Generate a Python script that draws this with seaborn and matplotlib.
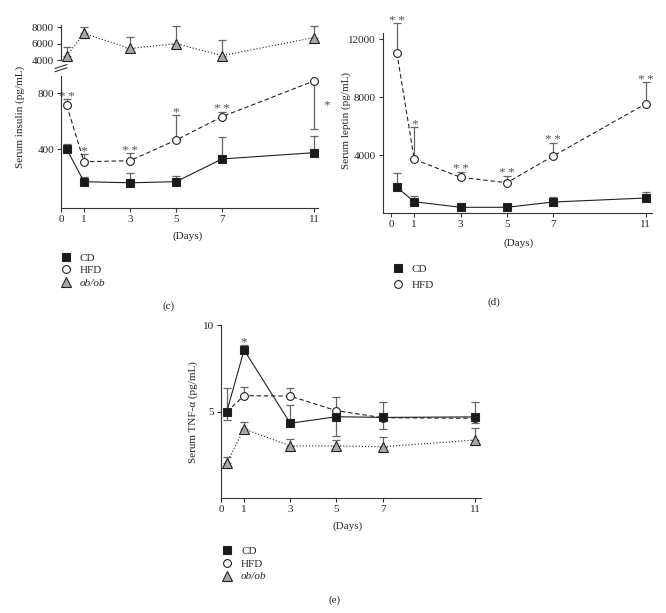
import numpy as np
import matplotlib
matplotlib.use("Agg")
import matplotlib.pyplot as plt
from matplotlib.lines import Line2D
import seaborn as sns

sns.set_style("ticks")
plt.rcParams['font.family'] = ['Liberation Serif', 'DejaVu Serif']

days = [0.25, 1, 3, 5, 7, 11]
day_ticks = [0, 1, 3, 5, 7, 11]

# (c) insulin, pg/mL ; error: + above the point, - below
ins_cd = [400, 169, 161, 169, 331, 376]
ins_cd_err = [38, 35, 68, 42, 154, 121]
ins_hfd = [714, 311, 319, 466, 633, 888]
ins_hfd_err = [43, 55, 52, 179, 36, -343]
ins_hfd_sig = ['**', '*', '**', '*', '**', '*']
ins_ob = [4540, 7250, 5410, 6000, 4540, 6750]
ins_ob_err = [1040, 830, 1420, 2160, 1960, 1410]

# (d) leptin, pg/mL
lep_cd = [1793, 800, 414, 414, 779, 1055]
lep_cd_err = [1007, 393, 120, 227, 324, 414]
lep_hfd = [11076, 3724, 2483, 2110, 3952, 7559]
lep_hfd_err = [2027, 2248, 386, 462, 917, 1475]
lep_hfd_sig = ['**', '*', '**', '**', '**', '**']

# (e) TNF-alpha, pg/mL
tnf_cd = [5.0, 8.57, 4.33, 4.71, 4.67, 4.70]
tnf_cd_err = [1.35, 0.29, 1.06, -1.10, 0.87, 0.88]
tnf_cd_sig = ['', '*', '', '', '', '']
tnf_hfd = [5.0, 5.93, 5.9, 5.06, 4.65, 4.62]
tnf_hfd_err = [-0.48, 0.52, 0.5, 0.81, -0.67, -0.25]
tnf_ob = [2.05, 4.0, 3.02, 3.02, 2.97, 3.36]
tnf_ob_err = [0.35, 0.42, 0.40, 0.34, 0.55, 0.68]

W, H = 666, 613
fig = plt.figure(figsize=(W / 100, H / 100), dpi=100)

LINE = '#222222'
ERR = '#666666'
TICK_FS = 8
LAB_FS = 8
STAR_FS = 9.5

STYLES = {
    'CD': dict(marker='s', linestyle='-', markerfacecolor='#1a1a1a', markersize=5.8),
    'HFD': dict(marker='o', linestyle=(0, (4, 2.5)), markerfacecolor='white', markersize=5.6),
    'ob/ob': dict(marker='^', linestyle=(0, (1, 1.8)), markerfacecolor='#a8a8a8', markersize=7.2),
}


def px_axes(l, t, r, b):
    return fig.add_axes([l / W, 1 - b / H, (r - l) / W, (b - t) / H])


def draw(ax, y, err, kind):
    y = np.array(y, float)
    err = np.array(err, float)
    x = np.array(days)
    up = err > 0
    dn = err < 0
    if up.any():
        ax.errorbar(x[up], y[up], yerr=[np.zeros(up.sum()), err[up]], fmt='none',
                    ecolor=ERR, elinewidth=0.9, capsize=2.6, capthick=0.9,
                    zorder=2, clip_on=False)
    if dn.any():
        ax.errorbar(x[dn], y[dn], yerr=[-err[dn], np.zeros(dn.sum())], fmt='none',
                    ecolor=ERR, elinewidth=0.9, capsize=2.6, capthick=0.9,
                    zorder=2, clip_on=False)
    sns.lineplot(x=days, y=y, ax=ax, color=LINE, linewidth=0.8,
                 markeredgecolor=LINE, markeredgewidth=0.8, zorder=3,
                 clip_on=False, **STYLES[kind])


def star_text(s):
    # the stars in the figure are set with a little gap between them
    return '\u2009'.join(s)


def stars(ax, y, err, sig):
    for xi, yi, e, s in zip(days, y, err, sig):
        if s:
            ax.annotate(star_text(s), (xi, yi + max(e, 0)), xytext=(0, 2),
                        textcoords='offset points', ha='center', va='center',
                        fontsize=STAR_FS, color='#555555', annotation_clip=False)


def style_axes(ax, xlim, ylim, yticks, bottom=True):
    ax.set_xlim(*xlim)
    ax.set_ylim(*ylim)
    ax.set_yticks(yticks)
    ax.set_yticklabels([str(v) for v in yticks], fontsize=TICK_FS)
    for s in ['top', 'right']:
        ax.spines[s].set_visible(False)
    for s in ['left', 'bottom']:
        ax.spines[s].set_color('#333333')
        ax.spines[s].set_linewidth(0.8)
    ax.tick_params(direction='out', length=3, width=0.8, color='#333333', pad=2)
    if bottom:
        ax.set_xticks(day_ticks)
        ax.set_xticklabels([str(d) for d in day_ticks], fontsize=TICK_FS)
    else:
        ax.spines['bottom'].set_visible(False)
        ax.set_xticks([])
    ax.set_xlabel('')
    ax.set_ylabel('')


def legend(kinds, x_px, y_px, spacing):
    handles = [Line2D([], [], linestyle='none', color=LINE, markeredgecolor=LINE,
                      markeredgewidth=0.8, marker=STYLES[k]['marker'],
                      markerfacecolor=STYLES[k]['markerfacecolor'],
                      markersize=STYLES[k]['markersize']) for k in kinds]
    leg = fig.legend(handles, kinds, loc='upper left', bbox_to_anchor=(x_px / W, 1 - y_px / H),
                     frameon=False, fontsize=LAB_FS, handlelength=1.0, handletextpad=0.8,
                     labelspacing=spacing, borderpad=0, borderaxespad=0)
    for t in leg.get_texts():
        if t.get_text() == 'ob/ob':
            t.set_style('italic')


# ---- (c) insulin with broken axis
ax_ct = px_axes(61, 25, 318, 60)
ax_cb = px_axes(61, 70, 318, 208.3)
draw(ax_ct, ins_ob, ins_ob_err, 'ob/ob')
draw(ax_cb, ins_cd, ins_cd_err, 'CD')
draw(ax_cb, ins_hfd, ins_hfd_err, 'HFD')
stars(ax_cb, ins_hfd[:5], ins_hfd_err[:5], ins_hfd_sig[:5])
ax_cb.annotate(star_text(ins_hfd_sig[5]), (days[5], ins_hfd[5] + ins_hfd_err[5] / 2),
               xytext=(9, 0), textcoords='offset points', ha='center', va='center',
               fontsize=STAR_FS, color='#555555', annotation_clip=False)
style_axes(ax_ct, (0, 11.17), (4000, 8290), [4000, 6000, 8000], bottom=False)
style_axes(ax_cb, (0, 11.17), (-21, 966), [400, 800])
ax_cb.spines['left'].set_bounds(-21, 920)
for dy in (0, 3.2):
    fig.add_artist(Line2D([55 / W, 67 / W], [1 - (68.5 + dy) / H, 1 - (64.5 + dy) / H],
                          color='#333333', linewidth=0.8))
fig.text(20 / W, 1 - 117 / H, 'Serum insulin (pg/mL)', rotation=90, ha='center',
         va='center', fontsize=LAB_FS)
fig.text(188 / W, 1 - 236 / H, '(Days)', ha='center', va='center', fontsize=LAB_FS)
legend(['CD', 'HFD', 'ob/ob'], 60, 253, 0.25)
fig.text(169 / W, 1 - 306 / H, '(c)', ha='center', va='center', fontsize=LAB_FS)

# ---- (d) leptin
ax_d = px_axes(382.7, 33.3, 651.7, 213.3)
draw(ax_d, lep_cd, lep_cd_err, 'CD')
draw(ax_d, lep_hfd, lep_hfd_err, 'HFD')
stars(ax_d, lep_hfd, lep_hfd_err, lep_hfd_sig)
style_axes(ax_d, (-0.36, 11.25), (0, 12414), [4000, 8000, 12000])
fig.text(346 / W, 1 - 120 / H, 'Serum leptin (pg/mL)', rotation=90, ha='center',
         va='center', fontsize=LAB_FS)
fig.text(519 / W, 1 - 243 / H, '(Days)', ha='center', va='center', fontsize=LAB_FS)
legend(['CD', 'HFD'], 392, 264, 0.55)
fig.text(494 / W, 1 - 302 / H, '(d)', ha='center', va='center', fontsize=LAB_FS)

# ---- (e) TNF-alpha
ax_e = px_axes(221, 325.3, 481, 498.1)
draw(ax_e, tnf_ob, tnf_ob_err, 'ob/ob')
draw(ax_e, tnf_hfd, tnf_hfd_err, 'HFD')
draw(ax_e, tnf_cd, tnf_cd_err, 'CD')
stars(ax_e, tnf_cd, tnf_cd_err, tnf_cd_sig)
style_axes(ax_e, (0, 11.26), (0, 10), [5, 10])
fig.text(193 / W, 1 - 412 / H, 'Serum TNF-α (pg/mL)', rotation=90, ha='center',
         va='center', fontsize=LAB_FS)
fig.text(348 / W, 1 - 526 / H, '(Days)', ha='center', va='center', fontsize=LAB_FS)
legend(['CD', 'HFD', 'ob/ob'], 221, 546.5, 0.25)
fig.text(335 / W, 1 - 600 / H, '(e)', ha='center', va='center', fontsize=LAB_FS)

fig.savefig('out.png', dpi=100)
